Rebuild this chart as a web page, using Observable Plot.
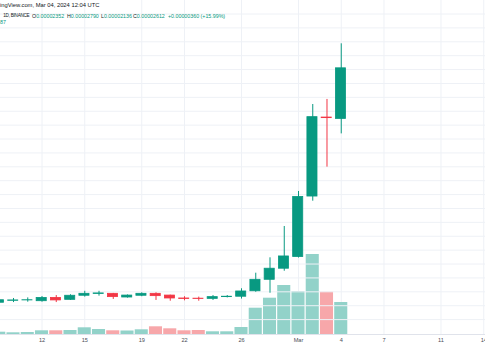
<!DOCTYPE html>
<html><head><meta charset="utf-8">
<script src="https://cdn.jsdelivr.net/npm/d3@7"></script>
<script src="https://cdn.jsdelivr.net/npm/@observablehq/plot@0.6"></script>
<style>
body{margin:0;background:#fff;}
#wrap{position:relative;width:485px;height:360px;overflow:hidden;font-family:"Liberation Sans",Arial,sans-serif;}
#wrap svg{position:absolute;left:0;top:0;overflow:visible;}
.t{position:absolute;white-space:nowrap;font-size:5.3px;line-height:1;}
.g{color:#089981;}
.k{color:#131722;}
</style></head><body><div id="wrap"></div>
<script>
// Daily candles (price in 1e-8 units) and volume (millions)
const dates = ["2024-02-09","2024-02-10","2024-02-11","2024-02-12","2024-02-13","2024-02-14","2024-02-15","2024-02-16","2024-02-17","2024-02-18","2024-02-19","2024-02-20","2024-02-21","2024-02-22","2024-02-23","2024-02-24","2024-02-25","2024-02-26","2024-02-27","2024-02-28","2024-02-29","2024-03-01","2024-03-02","2024-03-03","2024-03-04"];
const open  = [1407,1417,1419,1415,1432,1422,1443,1452,1453,1434,1443,1453,1444,1429,1428,1427,1436,1438,1466,1525,1582,1642,1953,2359,2352];
const high  = [1426,1429,1432,1439,1444,1448,1466,1466,1455,1447,1458,1458,1446,1438,1436,1444,1444,1479,1559,1638,1799,1979,2426,2452,2738];
const low   = [1403,1408,1410,1410,1408,1419,1436,1441,1424,1431,1438,1419,1415,1417,1415,1419,1432,1426,1461,1456,1569,1637,1929,2104,2275];
const close = [1420,1419,1420,1432,1419,1443,1453,1455,1436,1444,1453,1441,1429,1426,1426,1436,1438,1465,1525,1582,1645,1951,2361,2356,2612];
const volume = [0.23,0.17,0.20,0.37,0.37,0.40,0.67,0.50,0.37,0.35,0.47,0.77,0.57,0.37,0.40,0.27,0.27,0.70,2.63,3.63,4.90,4.30,8.00,4.23,3.20];
const tickDates = ["2024-02-12","2024-02-15","2024-02-19","2024-02-22","2024-02-26","2024-03-01","2024-03-04","2024-03-07","2024-03-11","2024-03-14"];
const tickLabels = ["12","15","19","22","26","Mar","4","7","11","14"];

const GREEN = "#089981", RED = "#f23645";
const VGREEN = "#92d2c9", VRED = "#f7a7aa";

const data = dates.map((d, i) => ({
  date: new Date(d), open: open[i], high: high[i], low: low[i], close: close[i], volume: volume[i],
  up: close[i] >= open[i]
}));
const ticks = tickDates.map(d => new Date(d));
const labelOf = new Map(ticks.map((t, i) => [+t, tickLabels[i]]));

const xDomain = [new Date(Date.UTC(2024,1,9,2,6)), new Date(Date.UTC(2024,2,14,2,57))];
const priceDomain = [1249, 2960.6];
const gridPrices = d3.range(priceDomain[0] + 71.4, priceDomain[1], 71.4);

const common = {width: 485, height: 360, marginTop: 0, marginBottom: 26, marginLeft: 0, marginRight: 0,
  style: {background: "transparent", fontFamily: "Liberation Sans, Arial, sans-serif"}};

// Bottom layer: grid, volume, axis
const volPlot = Plot.plot({
  ...common,
  x: {type: "utc", domain: xDomain, axis: null},
  y: {domain: [0, 33.4], range: [334, 0], axis: null},
  marks: [
    Plot.ruleX(ticks, {stroke: "#eef1f6", strokeWidth: 1}),
    Plot.rectY(data, {
      x1: d => d3.utcHour.offset(d.date, -11),
      x2: d => d3.utcHour.offset(d.date, 11),
      y1: 0, y2: "volume",
      fill: d => d.up ? VGREEN : VRED
    }),
    Plot.ruleY([0], {stroke: "#e0e3eb"}),
    Plot.axisX(ticks, {tickSize: 0, tickPadding: 4, fontSize: 5.6, fill: "#4a4d57",
      tickFormat: t => labelOf.get(+t) ?? "",
      fontWeight: t => labelOf.get(+t) === "Mar" ? "bold" : "normal"})
  ]
});

// Top layer: price gridlines and candles
const candlePlot = Plot.plot({
  ...common,
  x: {type: "utc", domain: xDomain, axis: null},
  y: {domain: priceDomain, range: [333, 0], axis: null},
  marks: [
    Plot.gridY(gridPrices, {stroke: "#eef1f6", strokeOpacity: 1}),
    Plot.ruleX(data, {x: "date", y1: "low", y2: "high", stroke: d => d.up ? GREEN : RED, strokeWidth: 1}),
    Plot.rect(data, {
      x1: d => d3.utcHour.offset(d.date, -8.5),
      x2: d => d3.utcHour.offset(d.date, 8.5),
      y1: "open", y2: "close",
      fill: d => d.up ? GREEN : RED,
      stroke: d => d.up ? GREEN : RED, strokeWidth: 0.8
    })
  ]
});

const wrap = document.getElementById("wrap");
wrap.appendChild(volPlot);
wrap.appendChild(candlePlot);

function addText(html, x, yCenter, cls, size, spacing) {
  const el = document.createElement("div");
  el.className = "t " + (cls || "");
  el.innerHTML = html;
  el.style.left = x + "px";
  if (size) el.style.fontSize = size + "px";
  if (spacing) el.style.letterSpacing = spacing + "px";
  el.style.top = (yCenter - (size || 5.3) * 0.53) + "px";
  wrap.appendChild(el);
}
addText("ingView.com, Mar 04, 2024 12:04 UTC", 0, 5.7, "k", 5.8);
addText("1D, BINANCE", 3.3, 16.7, "k", 4.6, -0.25);
addText('<span class="k">O</span><span class="g">0.00002352</span>', 32, 16.7);
addText('<span class="k">H</span><span class="g">0.00002790</span>', 67, 16.7);
addText('<span class="k">L</span><span class="g">0.00002136</span>', 101, 16.7);
addText('<span class="k">C</span><span class="g">0.00002612</span>', 133, 16.7);
addText('<span class="g">+0.00000360 (+15.99%)</span>', 168, 16.7);
addText('<span class="g">87</span>', 0, 22.7);
</script>
</body></html>
